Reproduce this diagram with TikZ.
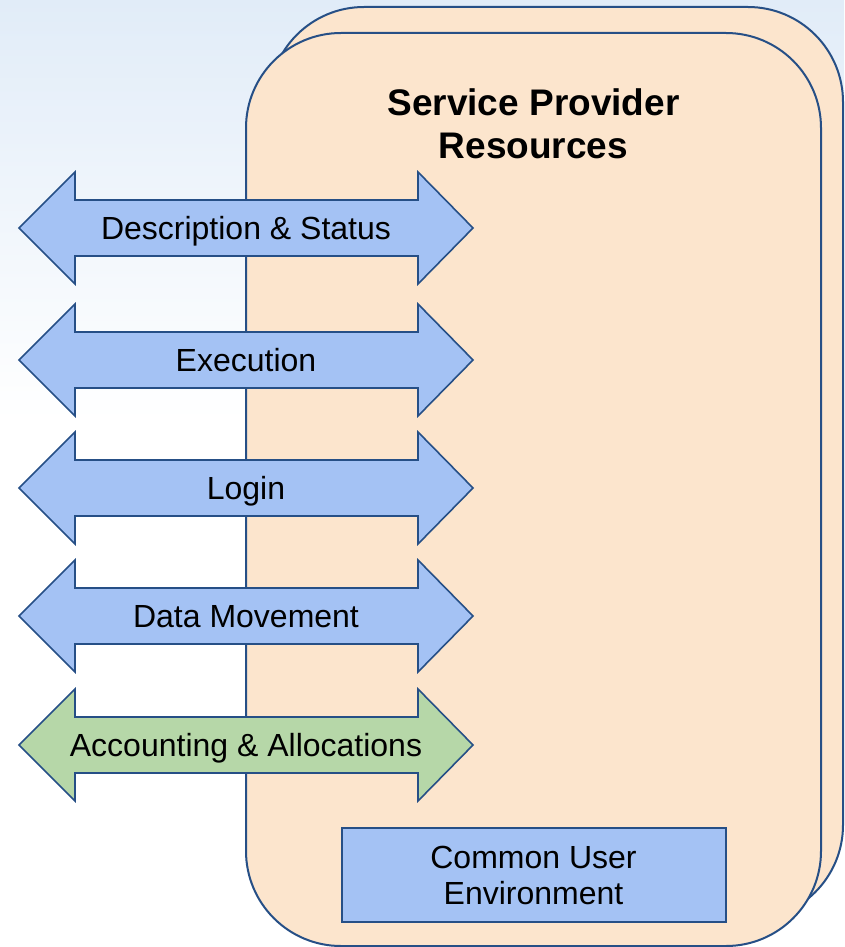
\documentclass[tikz,border=0pt]{standalone}
\usepackage{fontspec}
\setmainfont{Liberation Sans}
\definecolor{peach}{HTML}{FCE5CD}
\definecolor{lblue}{HTML}{A4C2F4}
\definecolor{lgreen}{HTML}{B6D7A8}
\definecolor{edgeblue}{HTML}{264F86}
\definecolor{bgblue}{HTML}{E1ECF8}
\newcommand\biarrow[4]{%
  \draw[arrowshape,fill=#3] (19,#2) -- (75,#2-56) -- (75,#2-28) -- (418,#2-28) -- (418,#2-56)
     -- (473,#2) -- (418,#2+56) -- (418,#2+28) -- (75,#2+28) -- (75,#2+56) -- cycle;
  \node[arrowlabel] (#1) at (246,#2+11.5) {#4};
}
\begin{document}
\begin{tikzpicture}[x=1pt,y=-1pt,
  panel/.style={draw=edgeblue,line width=2pt,fill=peach,rounded corners=95pt},
  arrowshape/.style={draw=edgeblue,line width=1.6pt,line join=miter},
  arrowlabel/.style={font=\fontsize{32}{36}\selectfont,inner sep=0pt,anchor=base,text=black},
  cuebox/.style={draw=edgeblue,line width=2pt,fill=lblue,minimum width=384pt,minimum height=94pt,
    inner sep=0pt,align=center,font=\fontsize{32}{36}\selectfont},
  title/.style={font=\fontsize{37}{43}\selectfont\bfseries,align=center,inner sep=0pt}]
\useasboundingbox (0,0) rectangle (844,947);
\fill[white] (0,0) rectangle (844,947);
\shade[top color=bgblue,bottom color=white] (0,0) rectangle (844,420);
% back and front panels
\draw[panel] (269,7) rectangle (843,920);
\draw[panel] (246,33) rectangle (821,946);
% arrows
\biarrow{desc}{228}{lblue}{Description \& Status}
\biarrow{exec}{360}{lblue}{Execution}
\biarrow{login}{488}{lblue}{Login}
\biarrow{data}{616}{lblue}{Data Movement}
\biarrow{acct}{745}{lgreen}{Accounting \& Allocations}
% common user environment
\node[cuebox] (cue) at (533.5,875) {Common User\\Environment};
% title
\node[title] (ttl) at (533.5,124) {Service Provider\\Resources};
\end{tikzpicture}
\end{document}
